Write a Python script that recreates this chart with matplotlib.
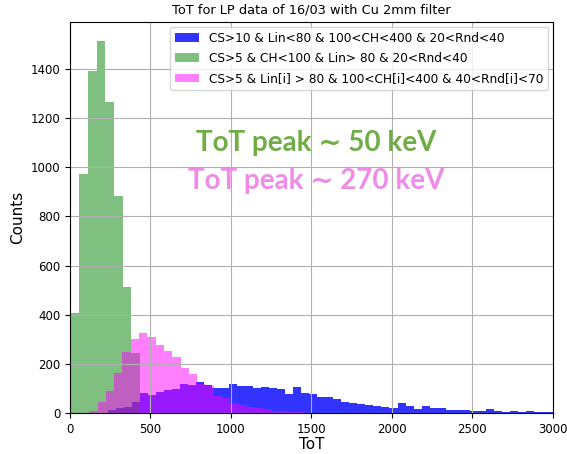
import numpy as np
import matplotlib
matplotlib.use("Agg")
import matplotlib.pyplot as plt

# histogram counts (bin start, bin width, counts)
blue_label = "CS>10 & Lin<80 & 100<CH<400 & 20<Rnd<40"
blue_start = 235
blue_width = 50
blue_counts = [11, 22, 26, 44, 80, 75, 87, 94, 98, 118, 113, 126, 115, 102, 102,
               118, 111, 109, 103, 107, 103, 98, 76, 107, 80, 76, 67, 66, 56, 46,
               39, 35, 32, 30, 23, 20, 40, 28, 17, 27, 22, 22, 11, 14, 11, 10, 10,
               18, 7, 6, 8, 5, 8, 5, 5, 5, 4, 4]

green_label = "CS>5 & CH<100 & Lin> 80 & 20<Rnd<40"
green_start = 5
green_width = 53.7
green_counts = [408, 973, 1393, 1515, 1267, 881, 512, 243]

pink_label = "CS>5 & Lin[i] > 80 & 100<CH[i]<400 & 40<Rnd[i]<70"
pink_start = 120
pink_width = 51.5
pink_counts = [10, 44, 91, 163, 247, 301, 325, 308, 277, 254, 227, 182, 160, 116,
               108, 68, 61, 42, 33, 26, 22, 15, 10, 8, 5, 3, 2]


def edges(start, width, counts):
    return start + width * np.arange(len(counts) + 1)


fig = plt.figure(figsize=(5.67, 4.54), dpi=100)
ax = fig.add_axes([0.1235, 0.0903, 0.8515, 0.8612])

e = edges(blue_start, blue_width, blue_counts)
ax.hist(e[:-1], bins=e, weights=blue_counts, color="blue", alpha=0.8, label=blue_label)
e = edges(green_start, green_width, green_counts)
ax.hist(e[:-1], bins=e, weights=green_counts, color="green", alpha=0.5, label=green_label)
e = edges(pink_start, pink_width, pink_counts)
ax.hist(e[:-1], bins=e, weights=pink_counts, color="magenta", alpha=0.5, label=pink_label)

ax.set_xlim(0, 3000)
ax.grid(True)
ax.set_title("ToT for LP data of 16/03 with Cu 2mm filter", fontsize=9.3)
ax.set_xlabel("ToT", fontsize=11, labelpad=1)
ax.set_ylabel("Counts", fontsize=11)
ax.tick_params(labelsize=8.5)
ax.legend(loc="upper right", fontsize=8.7, labelspacing=0.6, borderaxespad=0.4)

ax.text(0.509, 0.69, "ToT peak \u223c 50 keV", transform=ax.transAxes,
        ha="center", va="center", fontsize=20, fontweight="bold",
        color="#70ad47", family=["Lato", "DejaVu Sans"])
ax.text(0.509, 0.593, "ToT peak \u223c 270 keV", transform=ax.transAxes,
        ha="center", va="center", fontsize=20, fontweight="bold",
        color="#ee8ce6", family=["Lato", "DejaVu Sans"])

fig.savefig("out.png", dpi=100)
